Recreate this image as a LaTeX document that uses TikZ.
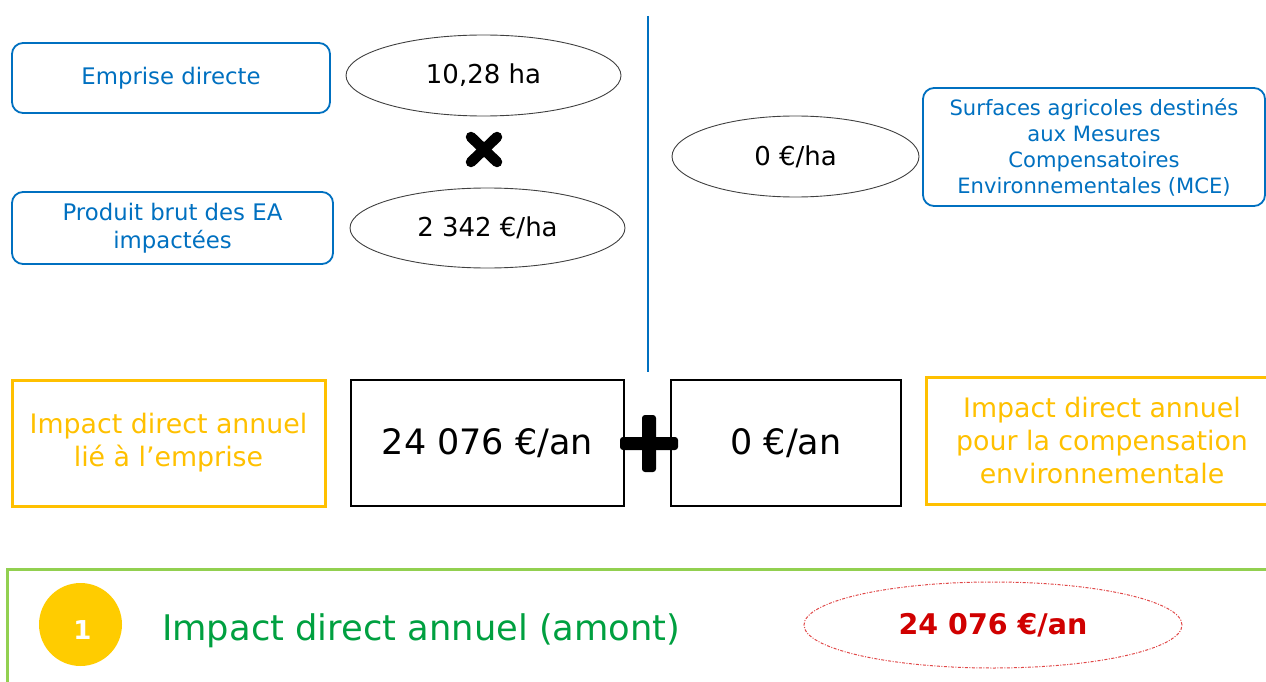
\documentclass[tikz,border=0pt]{standalone}
\usepackage{fontspec}
\setmainfont{DejaVu Sans}
\usetikzlibrary{shapes.geometric,calc}
\definecolor{pblue}{HTML}{0070C0}
\definecolor{porange}{HTML}{FFC000}
\definecolor{pgreen}{HTML}{92D050}
\definecolor{tgreen}{HTML}{00A040}
\definecolor{pyellow}{HTML}{FFCC00}
\definecolor{tred}{HTML}{D00000}
\definecolor{dred}{HTML}{E04848}
\tikzset{
  bluebox/.style={draw=pblue, line width=1.8pt, rounded corners=11pt, text=pblue, align=center, inner sep=0pt, font=\fontsize{22.8}{28}\selectfont},
  valell/.style={ellipse, draw=black!75, line width=0.9pt, inner sep=0pt, font=\fontsize{26}{30}\selectfont},
  orangebox/.style={draw=porange, line width=3pt, text=porange, align=center, inner sep=0pt, font=\fontsize{26.8}{33}\selectfont},
  resbox/.style={draw=black, line width=1.5pt, inner sep=0pt, font=\fontsize{35}{40}\selectfont},
  heavy/.style={line width=10.5pt, line cap=round},
}
\begin{document}
\begin{tikzpicture}[x=1pt, y=-1pt]
\useasboundingbox (0,0) rectangle (1266,682);
% left column
\node[bluebox, minimum width=318pt, minimum height=70pt] (emp) at (171,78) {Emprise directe};
\node[bluebox, minimum width=321pt, minimum height=72pt] (prod) at (172.5,228) {Produit brut des EA\\impactées};
\node[valell, minimum width=275pt, minimum height=81pt] (ha) at (483.5,75.5) {10,28 ha};
\node[valell, minimum width=275pt, minimum height=80pt] (pb) at (487.5,228) {2 342 €/ha};
\coordinate (xm) at (484,149.5);
\draw[heavy] ($(xm)+(-13,-12.5)$) -- ($(xm)+(13,12.5)$);
\draw[heavy] ($(xm)+(-13,12.5)$) -- ($(xm)+(13,-12.5)$);
% separator
\coordinate (sepT) at (648,16);
\coordinate (sepB) at (648,372);
\draw[pblue, line width=1.8pt] (sepT) -- (sepB);
% right column
\node[valell, minimum width=247pt, minimum height=81pt] (zh) at (795.5,156.5) {0 €/ha};
\node[bluebox, minimum width=342pt, minimum height=118pt, font=\fontsize{21.1}{26}\selectfont] (mce) at (1094,147) {Surfaces agricoles destinés\\aux Mesures\\Compensatoires\\Environnementales (MCE)};
% results row
\node[orangebox, minimum width=313pt, minimum height=126pt] (imp1) at (168.5,443) {Impact direct annuel\\lié à l’emprise};
\node[resbox, minimum width=273pt, minimum height=126pt] (r1) at (487.5,443) {24 076 €/an};
\node[resbox, minimum width=230pt, minimum height=126pt] (r2) at (786,443) {0 €/an};
\node[orangebox, minimum width=352pt, minimum height=127pt] (imp2) at (1102,440.5) {Impact direct annuel\\pour la compensation\\environnementale};
\coordinate (pl) at (649,443.5);
\fill[rounded corners=3pt] ($(pl)+(-29,-6.5)$) rectangle ($(pl)+(29,6.5)$);
\fill[rounded corners=3pt] ($(pl)+(-7,-28.5)$) rectangle ($(pl)+(7,28.5)$);
% total
\draw[pgreen, line width=3pt] (1290,569) -- (7,569) -- (7,700);
\node[circle, fill=pyellow, minimum size=83pt, inner sep=0pt] (one) at (80.5,624.5) {};
\node[text=white, inner sep=0pt, font=\fontsize{26}{30}\selectfont\bfseries] (onet) at (82.5,630.5) {1};
\node[anchor=west, text=tgreen, inner sep=0pt, font=\fontsize{35.3}{40}\selectfont] (tot) at (162,631) {Impact direct annuel (amont)};
\node[ellipse, draw=dred, line width=1pt, dash pattern=on 3pt off 1.5pt on 1pt off 1.5pt, minimum width=378pt, minimum height=86pt, inner sep=0pt, text=tred, font=\fontsize{28.5}{32}\selectfont\bfseries] (totv) at (993,625) {24 076 €/an};
\end{tikzpicture}
\end{document}
